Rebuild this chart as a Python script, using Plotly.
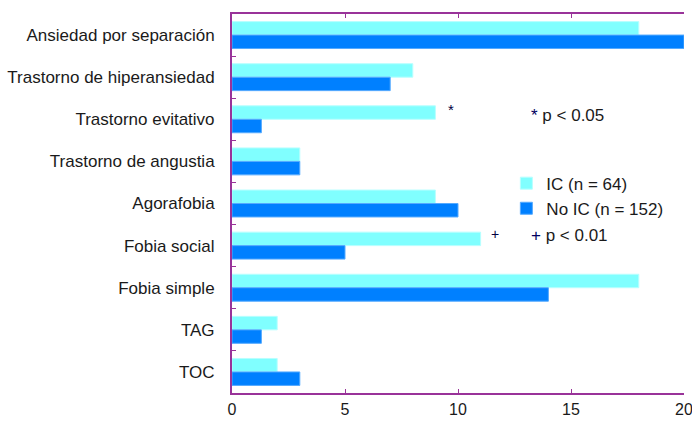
import plotly.graph_objects as go

# Prevalence (%) of each anxiety disorder by group
categories = [
    "Ansiedad por separación",
    "Trastorno de hiperansiedad",
    "Trastorno evitativo",
    "Trastorno de angustia",
    "Agorafobia",
    "Fobia social",
    "Fobia simple",
    "TAG",
    "TOC",
]
ic_values = [18, 8, 9, 3, 9, 11, 18, 2, 2]
no_ic_values = [20, 7, 1.3, 3, 10, 5, 14, 1.3, 3]

series_names = ["IC (n = 64)", "No IC (n = 152)"]
x_ticks = [0, 5, 10, 15, 20]

AXIS_COLOR = "#993399"
FONT = "Liberation Sans, Arial, sans-serif"
TEXT = "#1a1a1a"

fig = go.Figure()
fig.add_trace(go.Bar(
    y=categories, x=ic_values, orientation="h", name=series_names[0],
    marker=dict(color="#80FFFF", line=dict(color="#B8FFFF", width=1)),
))
fig.add_trace(go.Bar(
    y=categories, x=no_ic_values, orientation="h", name=series_names[1],
    marker=dict(color="#0080FF", line=dict(color="#55AAFF", width=1)),
))

# significance markers next to bars
fig.add_annotation(x=9.7, y="Trastorno evitativo", text="*", showarrow=False,
                   xanchor="center", yshift=10, font=dict(size=15, color="#000040"))
fig.add_annotation(x=11.65, y="Fobia social", text="+", showarrow=False,
                   xanchor="center", yshift=12, font=dict(size=14, color="#000040"))

# footnotes
fig.add_annotation(x=13.15, y="Trastorno evitativo",
                   text="<span style='color:#000060'>*</span> p &lt; 0.05",
                   showarrow=False, xanchor="left", yshift=4,
                   font=dict(size=17, color=TEXT, family=FONT))
fig.add_annotation(x=13.15, y="Fobia social",
                   text="<span style='color:#000060'>+</span> p &lt; 0.01",
                   showarrow=False, xanchor="left", yshift=10,
                   font=dict(size=17, color=TEXT, family=FONT))

fig.update_layout(
    width=692, height=421,
    margin=dict(l=232, r=8, t=14, b=28),
    paper_bgcolor="white", plot_bgcolor="white",
    barmode="group", bargap=0.36, bargroupgap=0,
    font=dict(family=FONT, size=17, color=TEXT),
    showlegend=True,
    legend=dict(x=0.607, y=0.6, xanchor="left", yanchor="top",
                bgcolor="rgba(0,0,0,0)", traceorder="normal",
                font=dict(size=17, color=TEXT),
                itemwidth=30, tracegroupgap=0),
    xaxis=dict(range=[0, 20], tickvals=x_ticks, ticks="inside", ticklen=4,
               tickcolor=AXIS_COLOR, showline=True, linecolor=AXIS_COLOR,
               linewidth=2, mirror="ticks", showgrid=False, zeroline=False,
               automargin=False, ticklabelstandoff=1,
               ticklabeloverflow="allow",
               tickfont=dict(size=16, color=TEXT)),
    yaxis=dict(autorange="reversed", ticks="inside", ticklen=4,
               tickson="boundaries", tickcolor=AXIS_COLOR, showline=True,
               linecolor=AXIS_COLOR, linewidth=2, showgrid=False,
               automargin=False, ticklabelstandoff=12,
               tickfont=dict(size=17, color=TEXT)),
)

fig.write_html("out.html")
